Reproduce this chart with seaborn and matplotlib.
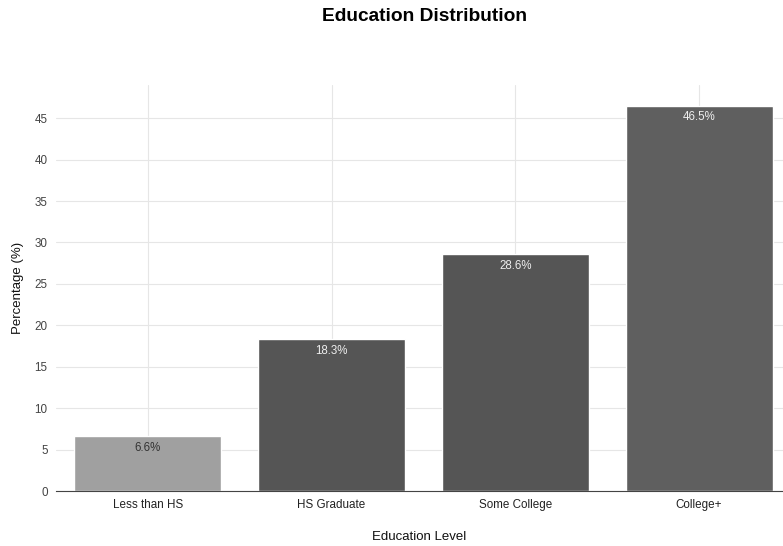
import matplotlib
matplotlib.use('Agg')
import matplotlib.pyplot as plt
import seaborn as sns
import pandas as pd

# data
levels = ['Less than HS', 'HS Graduate', 'Some College', 'College+']
percentages = [6.6, 18.3, 28.6, 46.5]
bar_colors = ['#a0a0a0', '#555555', '#555555', '#5f5f5f']
label_colors = ['#333333', '#eeeeee', '#eeeeee', '#eeeeee']

df = pd.DataFrame({'level': levels, 'pct': percentages})

sns.set_style('white')
plt.rcParams['font.family'] = ['Liberation Sans', 'DejaVu Sans']

fig = plt.figure(figsize=(7.83, 5.46), dpi=100)
ax = fig.add_axes([0.0715, 0.1007, 0.9285, 0.7436])

sns.barplot(data=df, x='level', y='pct', hue='level', palette=bar_colors,
            legend=False, width=0.8, ax=ax, zorder=2)

for i, p in enumerate(ax.patches):
    ax.annotate(f'{percentages[i]}%', (p.get_x() + p.get_width() / 2, p.get_height()),
                xytext=(0, -4), textcoords='offset points', ha='center', va='top',
                fontsize=8.3, color=label_colors[i], zorder=3)

ax.set_xlim(-0.5, 3.457)
ax.set_ylim(0, 49)
ax.set_yticks(range(0, 50, 5))
ax.grid(True, color='#e6e6e6', linewidth=0.8, zorder=0)
ax.set_axisbelow(True)
for s in ['top', 'right', 'left']:
    ax.spines[s].set_visible(False)
ax.spines['bottom'].set_color('#444444')
ax.spines['bottom'].set_linewidth(0.8)
ax.tick_params(axis='both', labelsize=8.4, colors='#444444', length=0, pad=6)
ax.tick_params(axis='x', labelcolor='#222222')
ax.set_xlabel('Education Level', fontsize=9.5, labelpad=14, color='#111111')
ax.set_ylabel('Percentage (%)', fontsize=9.5, labelpad=8, color='#111111')

fig.suptitle('Education Distribution', fontsize=13.8, fontweight='bold', y=0.985, x=0.542,
             color='#000000')

plt.savefig('out.png', dpi=100)
plt.close()
